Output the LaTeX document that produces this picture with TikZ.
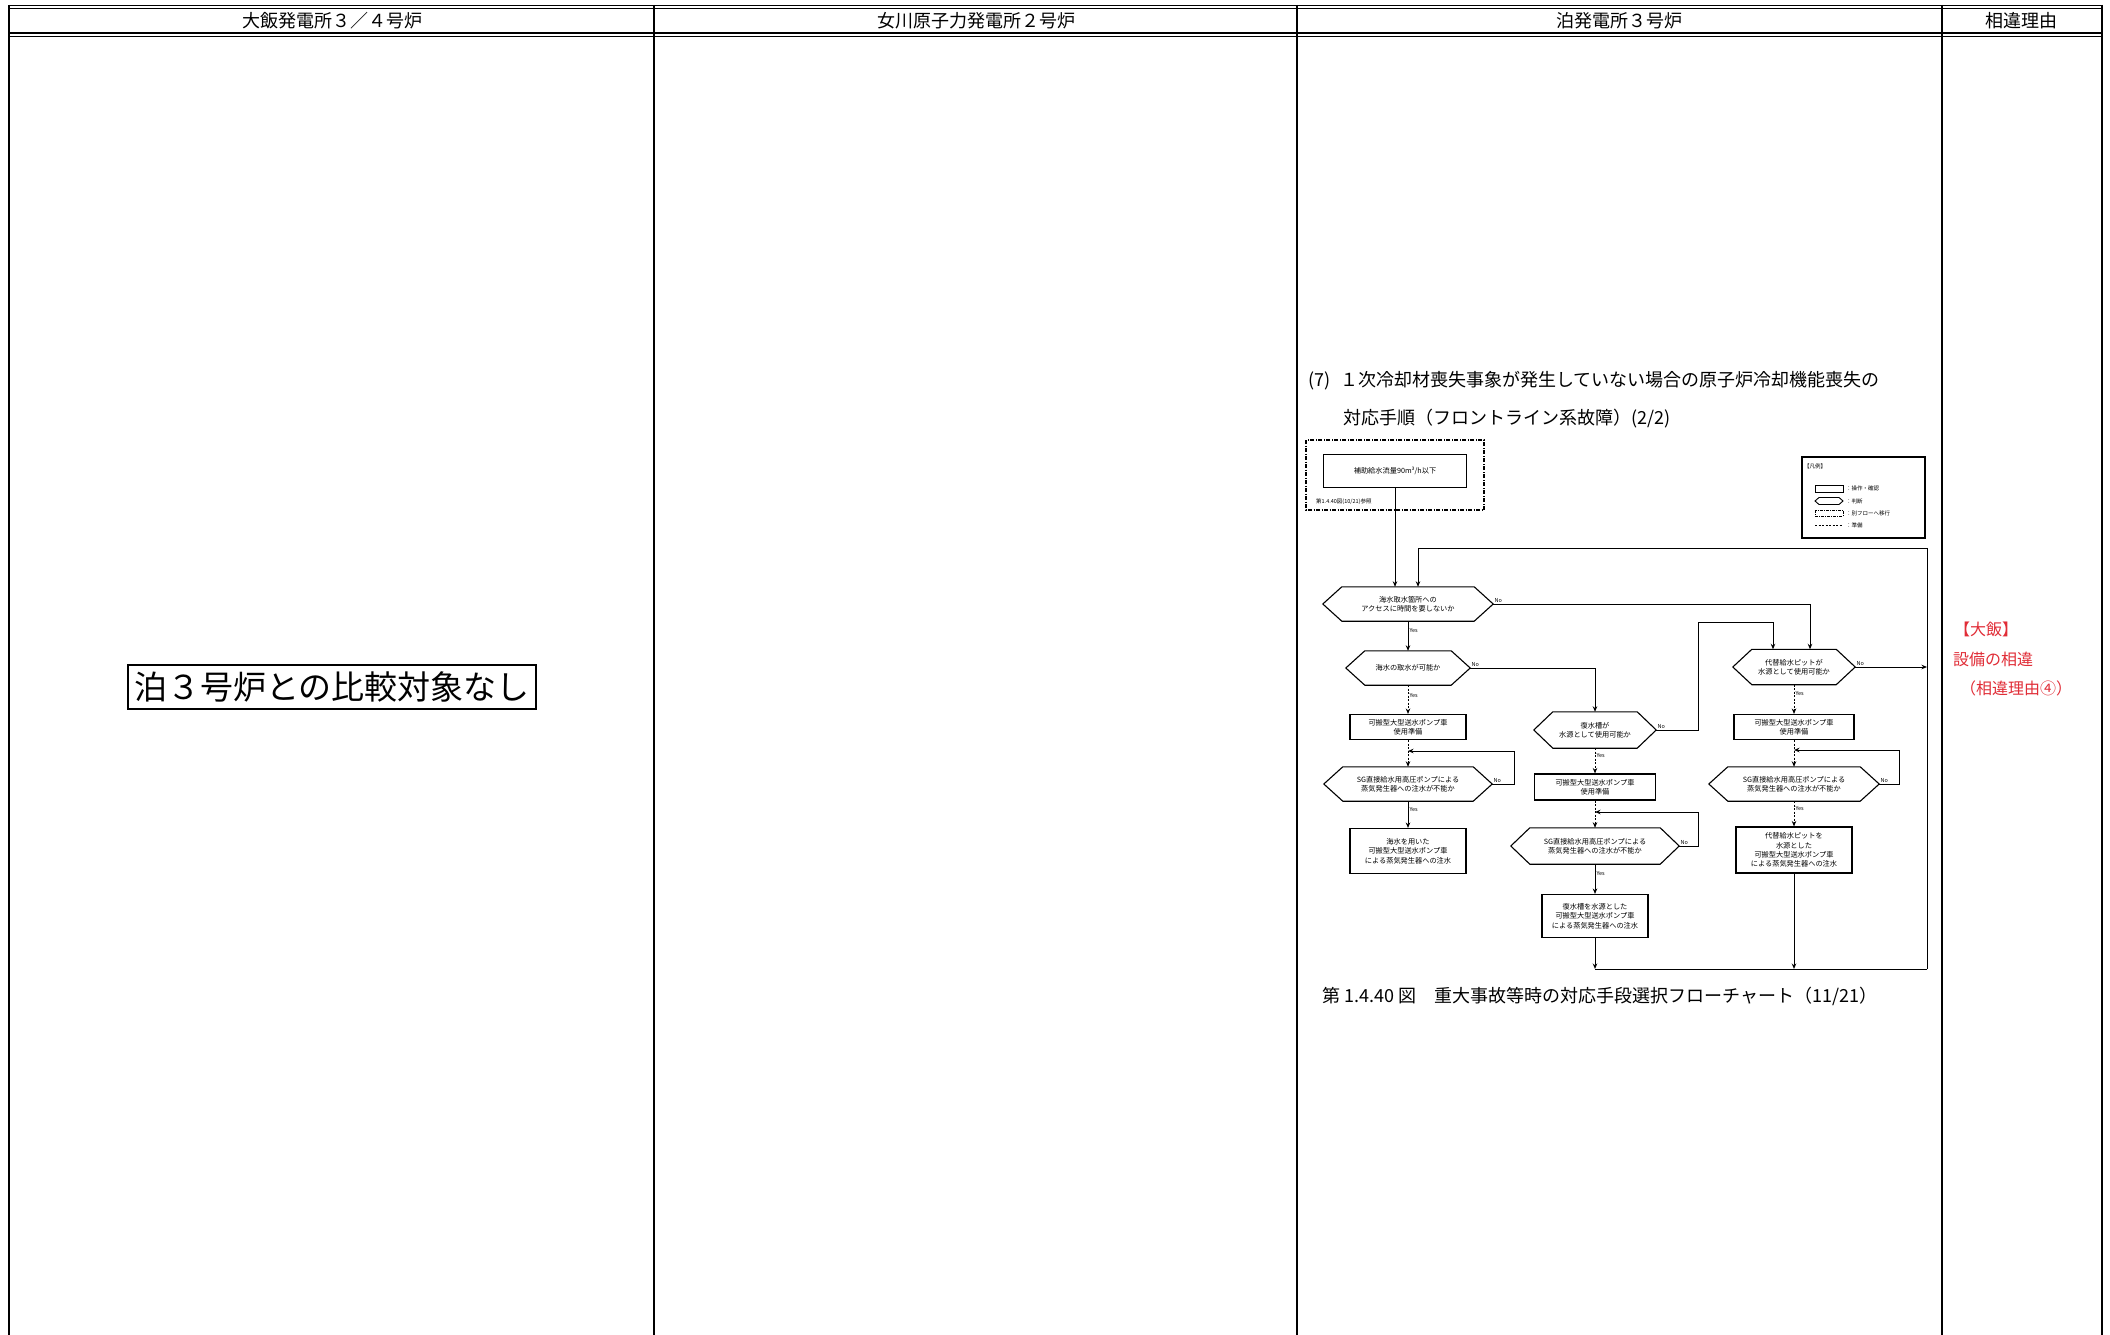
\documentclass[tikz,border=0pt]{standalone}
\usepackage{fontspec}
\setmainfont{Noto Sans CJK JP}
\usetikzlibrary{arrows.meta,calc}
\definecolor{redtxt}{RGB}{225,45,55}
\newcommand{\hexdraw}[2][19pt]{%
  \draw[hexline] (#2.west) -- ([xshift=#1]#2.north west) -- ([xshift=-#1]#2.north east)
    -- (#2.east) -- ([xshift=-#1]#2.south east) -- ([xshift=#1]#2.south west) -- cycle;}
\begin{document}
\begin{tikzpicture}[x=1pt,y=-1pt,
  tline/.style={line width=1.3pt},
  hdr/.style={font=\fontsize{18}{20}\selectfont, inner sep=0pt},
  fcbox/.style={draw, line width=1.1pt, font=\fontsize{7.2}{9.3}\selectfont, align=center, inner sep=1pt},
  hexnode/.style={draw=none, font=\fontsize{7.2}{9.3}\selectfont, align=center, inner sep=0pt},
  hexline/.style={line width=1.1pt},
  conn/.style={line width=1pt},
  arr/.style={conn, -{Stealth[length=5.5pt,width=4.5pt]}},
  darr/.style={arr, dash pattern=on 2pt off 1.5pt},
  lbl/.style={font=\fontsize{5.5}{6.5}\selectfont, inner sep=1pt},
  lg/.style={font=\fontsize{5.5}{6.5}\selectfont, inner sep=0pt, anchor=west},
  redlbl/.style={font=\fontsize{16}{18}\selectfont, text=redtxt, inner sep=0pt, anchor=west}
]
\useasboundingbox (0,0) rectangle (2110,1335);
\fill[white] (0,0) rectangle (2110,1335);

% ---------- table ----------
\draw[tline] (9,5.5) -- (2102,5.5);
\draw[tline] (9,8.5) -- (2102,8.5);
\draw[tline] (9,33) -- (2102,33);
\draw[tline] (9,36.5) -- (2102,36.5);
\foreach \xx in {9,654,1297,1942,2102} \draw[tline] (\xx,5) -- (\xx,1335);

\node[hdr] (h1) at (332,21) {大飯発電所３／４号炉};
\node[hdr] (h2) at (976,21) {女川原子力発電所２号炉};
\node[hdr] (h3) at (1619,21) {泊発電所３号炉};
\node[hdr] (h4) at (2021,21) {相違理由};

% ---------- left column ----------
\node[draw, line width=1.2pt, minimum width=408, minimum height=44, inner sep=0pt,
      font=\fontsize{33}{35}\selectfont] (none) at (332,687) {泊３号炉との比較対象なし};

% ---------- reason column ----------
\node[redlbl] (r1) at (1954,629) {【大飯】};
\node[redlbl] (r2) at (1953,659) {設備の相違};
\node[redlbl] (r3) at (1960,688) {（相違理由④）};

% ---------- title & caption ----------
\node[font=\fontsize{18}{20}\selectfont, anchor=west, inner sep=0pt] (t1) at (1308,381)
  {(7)\hspace{10pt}１次冷却材喪失事象が発生していない場合の原子炉冷却機能喪失の};
\node[font=\fontsize{18}{20}\selectfont, anchor=west, inner sep=0pt] (t2) at (1343,419)
  {対応手順（フロントライン系故障）(2/2)};
\node[font=\fontsize{18}{20}\selectfont, anchor=west, inner sep=0pt] (cap) at (1322,996)
  {第 1.4.40 図　重大事故等時の対応手段選択フローチャート（11/21）};

% ---------- flowchart ----------
\draw[line width=1.1pt, dash pattern=on 4pt off 1.5pt on 1pt off 1.5pt] (1306,440) rectangle (1484,510);
\node[fcbox, minimum width=143, minimum height=33] (start) at (1395,471) {補助給水流量90m³/h以下};
\node[lg] (ref) at (1316,502) {第1.4.40図(10/21)参照};

% column A
\node[hexnode, minimum width=170, minimum height=34] (hex1) at (1408,604) {海水取水箇所への\\アクセスに時間を要しないか};
\hexdraw{hex1}
\node[hexnode, minimum width=124, minimum height=34] (hex2) at (1408,668) {海水の取水が可能か};
\hexdraw{hex2}
\node[fcbox, minimum width=116, minimum height=25] (box1) at (1408,727) {可搬型大型送水ポンプ車\\使用準備};
\node[hexnode, minimum width=168, minimum height=34] (hex4) at (1408,784) {SG直接給水用高圧ポンプによる\\蒸気発生器への注水が不能か};
\hexdraw{hex4}
\node[fcbox, minimum width=116, minimum height=45] (box2) at (1408,851) {海水を用いた\\可搬型大型送水ポンプ車\\による蒸気発生器への注水};

% column B
\node[hexnode, minimum width=122, minimum height=36] (hex3) at (1595,730) {復水槽が\\水源として使用可能か};
\hexdraw{hex3}
\node[fcbox, minimum width=121, minimum height=26] (box3) at (1595,787) {可搬型大型送水ポンプ車\\使用準備};
\node[hexnode, minimum width=168, minimum height=36] (hex6) at (1595,846) {SG直接給水用高圧ポンプによる\\蒸気発生器への注水が不能か};
\hexdraw{hex6}
\node[fcbox, minimum width=106, minimum height=43] (box4) at (1595,916) {復水槽を水源とした\\可搬型大型送水ポンプ車\\による蒸気発生器への注水};

% column C
\node[hexnode, minimum width=122, minimum height=35] (hex5) at (1794,667) {代替給水ピットが\\水源として使用可能か};
\hexdraw{hex5}
\node[fcbox, minimum width=120, minimum height=25] (box5) at (1794,727) {可搬型大型送水ポンプ車\\使用準備};
\node[hexnode, minimum width=170, minimum height=34] (hex7) at (1794,784) {SG直接給水用高圧ポンプによる\\蒸気発生器への注水が不能か};
\hexdraw{hex7}
\node[fcbox, minimum width=116, minimum height=46] (box6) at (1794,850) {代替給水ピットを\\水源とした\\可搬型大型送水ポンプ車\\による蒸気発生器への注水};

% loop coordinates
\coordinate (lpTR) at (1927,548);
\coordinate (lpBR) at (1927,969);
\coordinate (lpTL) at (1418,548);
\coordinate (b3) at (1698,622);
\coordinate (fb1r) at (1514,751);
\coordinate (fb1) at (1408,751);
\coordinate (fb2r) at (1698,812);
\coordinate (fb2) at (1595,812);
\coordinate (fb3r) at (1899,750);
\coordinate (fb3) at (1794,750);

% connectors
\draw[arr] (start.south) -- (start.south |- hex1.north);
\draw[arr] (lpBR) -- (lpTR) -- (lpTL) -- (lpTL |- hex1.north);
\draw[arr] (hex1.south) -- (hex2.north) node[lbl, pos=0.3, right] {Yes};
\draw[arr] (hex1.east) node[lbl, above right] {No} -| ([xshift=16pt]hex5.north);
\draw[arr] (hex2.east) node[lbl, above right] {No} -| (hex3.north);
\draw[darr] (hex2.south) -- (box1.north) node[lbl, pos=0.35, right] {Yes};
\draw[darr] (box1.south) -- (hex4.north);
\draw[arr] (hex4.east) node[lbl, above right] {No} -| (fb1r) -- (fb1);
\draw[arr] (hex4.south) -- (box2.north) node[lbl, pos=0.3, right] {Yes};

\draw[arr] (hex3.east) node[lbl, above right] {No} -| (b3) -| ([xshift=-21pt]hex5.north);
\draw[darr] (hex3.south) -- (box3.north) node[lbl, pos=0.3, right] {Yes};
\draw[darr] (box3.south) -- (hex6.north);
\draw[arr] (hex6.east) node[lbl, above right] {No} -| (fb2r) -- (fb2);
\draw[arr] (hex6.south) -- (box4.north) node[lbl, pos=0.3, right] {Yes};
\draw[arr] (box4.south) -- (box4.south |- lpBR);
\draw[conn] (box4.south |- lpBR) -- (lpBR);

\draw[arr] (hex5.east) node[lbl, above right] {No} -- (hex5.east -| lpBR);
\draw[darr] (hex5.south) -- (box5.north) node[lbl, pos=0.3, right] {Yes};
\draw[darr] (box5.south) -- (hex7.north);
\draw[arr] (hex7.east) node[lbl, above right] {No} -| (fb3r) -- (fb3);
\draw[darr] (hex7.south) -- (box6.north) node[lbl, pos=0.3, right] {Yes};
\draw[arr] (box6.south) -- (box6.south |- lpBR);

% ---------- legend ----------
\draw[line width=1.1pt] (1802,457) rectangle (1925,538);
\node[lg] (lgt) at (1804,466) {【凡例】};
\draw[line width=0.9pt] (1815,485) rectangle (1843,492);
\node[lg] (lg1) at (1846,488.5) {：操作・確認};
\draw[line width=0.9pt] (1815,501) -- (1819,497.5) -- (1839,497.5) -- (1843,501) -- (1839,504.5) -- (1819,504.5) -- cycle;
\node[lg] (lg2) at (1846,501) {：判断};
\draw[line width=0.8pt, dash pattern=on 3pt off 1pt on 1pt off 1pt] (1815,510) rectangle (1843,516);
\node[lg] (lg3) at (1846,513) {：別フローへ移行};
\draw[line width=0.8pt, dash pattern=on 2pt off 1.5pt] (1815,525) -- (1843,525);
\node[lg] (lg4) at (1846,525) {：準備};
\end{tikzpicture}
\end{document}
